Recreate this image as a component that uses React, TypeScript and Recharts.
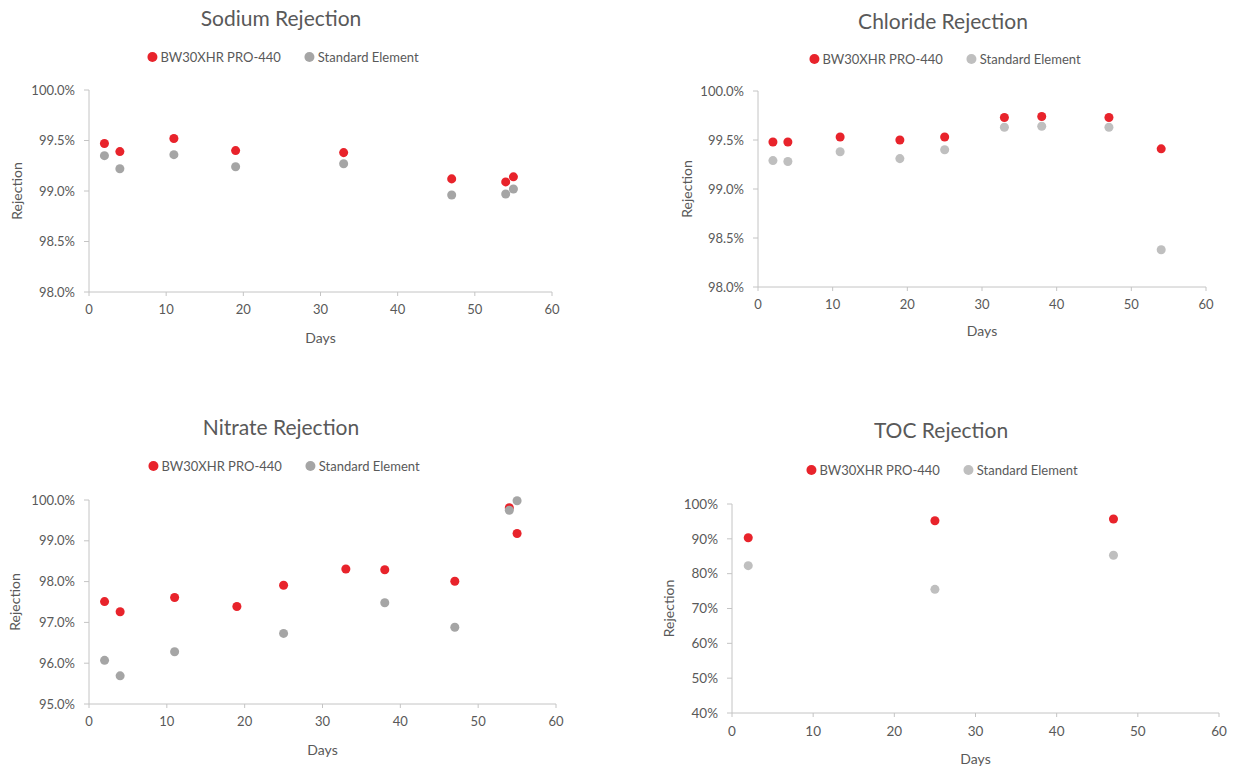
import React from 'react';
import { ScatterChart, Scatter, XAxis, YAxis, ZAxis } from 'recharts';

const RED = '#E8232B';
const GRAY_DARK = '#A5A5A5';
const GRAY_LIGHT = '#BFBFBF';
const TEXT = '#595959';
const AXIS = '#C4C4C4';
const FONT = 'Lato, "Open Sans", sans-serif';

const seriesNames = ['BW30XHR PRO-440', 'Standard Element'];
const dayTicks = [0, 10, 20, 30, 40, 50, 60];

const sodiumDaysRed = [2, 4, 11, 19, 33, 47, 54, 55];
const sodiumRed = [99.47, 99.39, 99.52, 99.4, 99.38, 99.12, 99.09, 99.14];
const sodiumDaysStd = [2, 4, 11, 19, 33, 47, 54, 55];
const sodiumStd = [99.35, 99.22, 99.36, 99.24, 99.27, 98.96, 98.97, 99.02];
const sodiumTicks = [98, 98.5, 99, 99.5, 100];

const chlorideDaysRed = [2, 4, 11, 19, 25, 33, 38, 47, 54];
const chlorideRed = [99.48, 99.48, 99.53, 99.5, 99.53, 99.73, 99.74, 99.73, 99.41];
const chlorideDaysStd = [2, 4, 11, 19, 25, 33, 38, 47, 54];
const chlorideStd = [99.29, 99.28, 99.38, 99.31, 99.4, 99.63, 99.64, 99.63, 98.38];
const chlorideTicks = [98, 98.5, 99, 99.5, 100];

const nitrateDaysRed = [2, 4, 11, 19, 25, 33, 38, 47, 54, 55];
const nitrateRed = [97.51, 97.26, 97.61, 97.39, 97.91, 98.31, 98.29, 98.01, 99.81, 99.18];
const nitrateDaysStd = [2, 4, 11, 25, 38, 47, 54, 55];
const nitrateStd = [96.07, 95.69, 96.28, 96.73, 97.48, 96.88, 99.75, 99.98];
const nitrateTicks = [95, 96, 97, 98, 99, 100];

const tocDaysRed = [2, 25, 47];
const tocRed = [90.3, 95.2, 95.7];
const tocDaysStd = [2, 25, 47];
const tocStd = [82.3, 75.5, 85.3];
const tocTicks = [40, 50, 60, 70, 80, 90, 100];

const zip = (xs: number[], ys: number[]) => xs.map((x, i) => ({ x, y: ys[i] }));
const fmt1 = (v: number) => `${v.toFixed(1)}%`;
const fmt0 = (v: number) => `${v}%`;

type PanelProps = {
  left: number;
  top: number;
  width: number;
  height: number;
  yw: number;
  title: string;
  titleCx: number;
  titleY: number;
  legendCx: number;
  legendY: number;
  redData: { x: number; y: number }[];
  stdData: { x: number; y: number }[];
  stdColor: string;
  yTicks: number[];
  yFmt: (v: number) => string;
  yLabelX: number;
  daysDy: number;
  tickFont?: number;
  dotArea?: number;
};

const Legend2 = ({ cx, cy, stdColor }: { cx: number; cy: number; stdColor: string }) => (
  <div
    style={{
      position: 'absolute',
      left: cx,
      top: cy - 9,
      height: 18,
      transform: 'translateX(-50%)',
      display: 'flex',
      alignItems: 'center',
      whiteSpace: 'nowrap',
      fontSize: 13,
      color: TEXT,
      fontFamily: FONT,
    }}
  >
    {[RED, stdColor].map((c, i) => (
      <div key={i} style={{ display: 'flex', alignItems: 'center', marginLeft: i ? 24 : 0 }}>
        <span style={{ width: 10, height: 10, borderRadius: '50%', background: c, marginRight: 3 }} />
        <span>{seriesNames[i]}</span>
      </div>
    ))}
  </div>
);

const Panel = (p: PanelProps) => {
  const mt = 20;
  const mr = 20;
  const xh = 60;
  const tf = p.tickFont ?? 13;
  return (
    <>
      <div
        style={{
          position: 'absolute',
          left: p.titleCx,
          top: p.titleY - 13,
          height: 26,
          lineHeight: '26px',
          transform: 'translateX(-50%)',
          whiteSpace: 'nowrap',
          fontSize: 21,
          color: TEXT,
          fontFamily: FONT,
        }}
      >
        {p.title}
      </div>
      <Legend2 cx={p.legendCx} cy={p.legendY} stdColor={p.stdColor} />
      <div style={{ position: 'absolute', left: p.left, top: p.top }}>
        <ScatterChart
          width={p.width}
          height={p.height}
          margin={{ top: mt, right: mr, left: 0, bottom: 0 }}
        >
          <XAxis
            type="number"
            dataKey="x"
            domain={[0, 60]}
            ticks={dayTicks}
            interval={0}
            height={xh}
            stroke={AXIS}
            tickSize={4}
            tickMargin={9}
            tick={{ fill: TEXT, fontSize: tf }}
            label={{
              content: (lp: any) => {
                const vb = lp.viewBox || {};
                return (
                  <text
                    x={vb.x + vb.width / 2}
                    y={vb.y + p.daysDy}
                    textAnchor="middle"
                    dominantBaseline="central"
                    fill={TEXT}
                    fontSize={14}
                  >
                    Days
                  </text>
                );
              },
            }}
          />
          <YAxis
            type="number"
            dataKey="y"
            domain={[p.yTicks[0], p.yTicks[p.yTicks.length - 1]]}
            ticks={p.yTicks}
            interval={0}
            width={p.yw}
            stroke={AXIS}
            tickSize={5}
            tickMargin={9}
            tickFormatter={p.yFmt}
            tick={{ fill: TEXT, fontSize: tf }}
            label={{
              content: (lp: any) => {
                const vb = lp.viewBox || {};
                const x = vb.x + p.yLabelX;
                const y = vb.y + vb.height / 2;
                return (
                  <text
                    x={x}
                    y={y}
                    transform={`rotate(-90, ${x}, ${y})`}
                    textAnchor="middle"
                    dominantBaseline="central"
                    fill={TEXT}
                    fontSize={14}
                  >
                    Rejection
                  </text>
                );
              },
            }}
          />
          <ZAxis range={[p.dotArea ?? 100, p.dotArea ?? 100]} />
          <Scatter name={seriesNames[0]} data={p.redData} fill={RED} isAnimationActive={false} />
          <Scatter name={seriesNames[1]} data={p.stdData} fill={p.stdColor} isAnimationActive={false} />
        </ScatterChart>
      </div>
    </>
  );
};

export default function App() {
  return (
    <div
      style={{
        position: 'absolute',
        left: 0,
        top: 0,
        width: 1236,
        height: 767,
        overflow: 'hidden',
        background: '#fff',
        fontFamily: FONT,
      }}
    >
      <Panel
        left={0}
        top={70}
        width={572}
        height={282}
        yw={89}
        title="Sodium Rejection"
        titleCx={281}
        titleY={18}
        legendCx={283}
        legendY={57}
        redData={zip(sodiumDaysRed, sodiumRed)}
        stdData={zip(sodiumDaysStd, sodiumStd)}
        stdColor={GRAY_DARK}
        yTicks={sodiumTicks}
        yFmt={fmt1}
        yLabelX={16}
        daysDy={45}
      />
      <Panel
        left={640}
        top={71}
        width={586}
        height={276}
        yw={118}
        title="Chloride Rejection"
        titleCx={943}
        titleY={21}
        legendCx={945}
        legendY={59}
        redData={zip(chlorideDaysRed, chlorideRed)}
        stdData={zip(chlorideDaysStd, chlorideStd)}
        stdColor={GRAY_LIGHT}
        yTicks={chlorideTicks}
        yFmt={fmt1}
        yLabelX={46}
        daysDy={43}
      />
      <Panel
        left={0}
        top={480}
        width={576}
        height={284}
        yw={89}
        title="Nitrate Rejection"
        titleCx={281}
        titleY={427}
        legendCx={284}
        legendY={466}
        redData={zip(nitrateDaysRed, nitrateRed)}
        stdData={zip(nitrateDaysStd, nitrateStd)}
        stdColor={GRAY_DARK}
        yTicks={nitrateTicks}
        yFmt={fmt1}
        yLabelX={14}
        daysDy={45}
      />
      <Panel
        left={640}
        top={484}
        width={599}
        height={289}
        yw={92}
        title="TOC Rejection"
        titleCx={941}
        titleY={430}
        legendCx={942}
        legendY={470}
        redData={zip(tocDaysRed, tocRed)}
        stdData={zip(tocDaysStd, tocStd)}
        stdColor={GRAY_LIGHT}
        yTicks={tocTicks}
        yFmt={fmt0}
        yLabelX={28}
        daysDy={45}
        tickFont={13.5}
        dotArea={110}
      />
    </div>
  );
}
